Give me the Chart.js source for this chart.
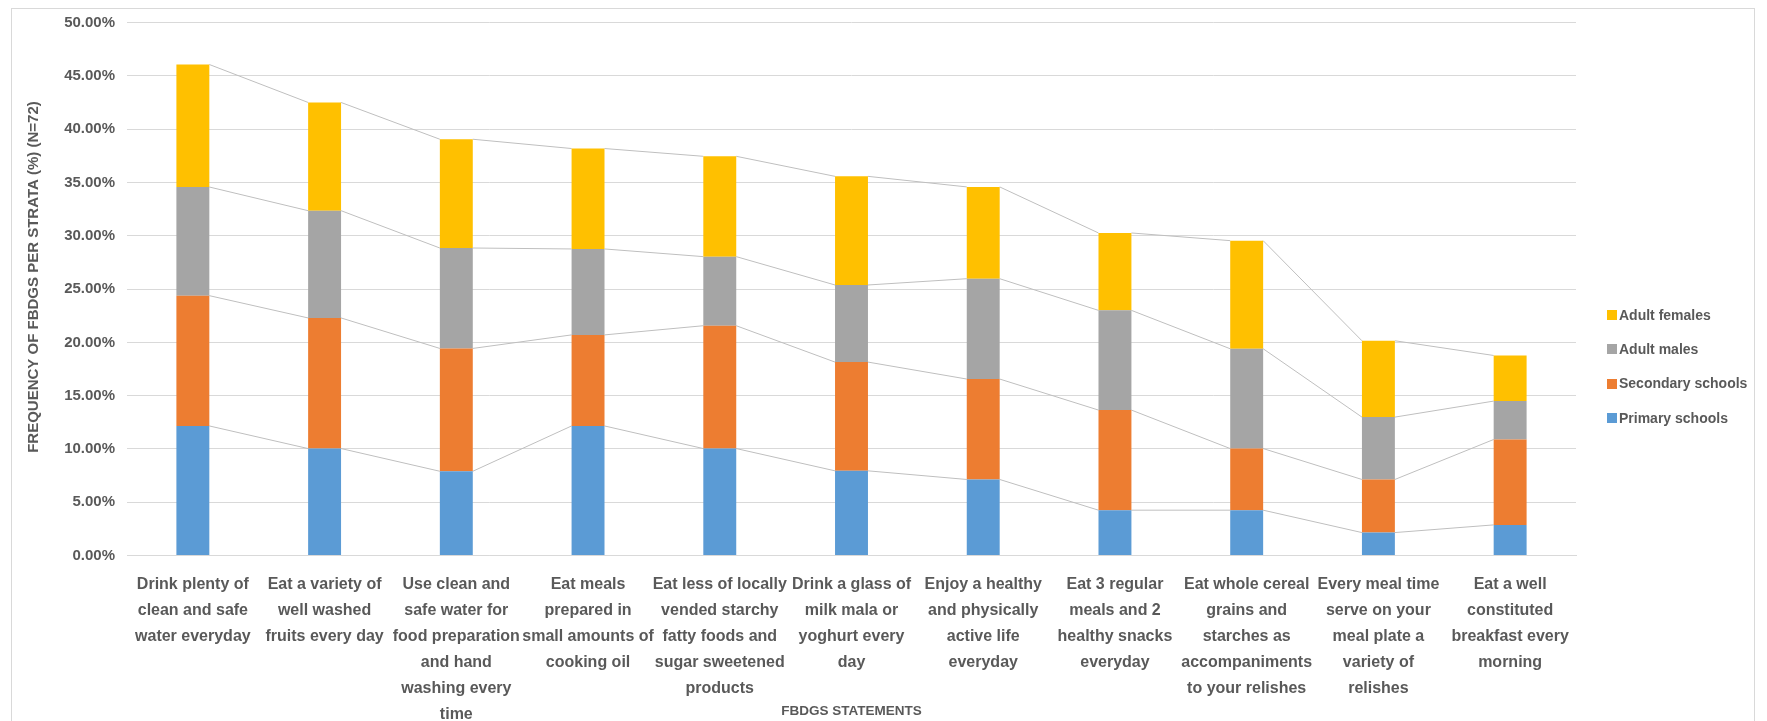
<!DOCTYPE html>
<html>
<head>
<meta charset="utf-8">
<script src="https://cdn.jsdelivr.net/npm/chart.js@4.4.1/dist/chart.umd.min.js"></script>
<style>
  html, body { margin: 0; padding: 0; background: #ffffff; overflow: hidden; }
  #frame { position: absolute; left: 11px; top: 8px; width: 1744px; height: 740px; border: 1px solid #d9d9d9; box-sizing: border-box; }
  #wrap { position: absolute; left: 0; top: 0; width: 1767px; height: 721px; }
</style>
</head>
<body>
<div id="frame"></div>
<div id="wrap"><canvas id="chart" width="1767" height="721"></canvas></div>
<script>
// FBDGS statements (multi-line category labels)
const statements = [
  ["Drink plenty of", "clean and safe", "water everyday"],
  ["Eat a variety of", "well washed", "fruits every day"],
  ["Use clean and", "safe water for", "food preparation", "and hand", "washing every", "time"],
  ["Eat meals", "prepared in", "small amounts of", "cooking oil"],
  ["Eat less of locally", "vended starchy", "fatty foods and", "sugar sweetened", "products"],
  ["Drink a glass of", "milk mala or", "yoghurt every", "day"],
  ["Enjoy a healthy", "and physically", "active life", "everyday"],
  ["Eat 3 regular", "meals and 2", "healthy snacks", "everyday"],
  ["Eat whole cereal", "grains and", "starches as", "accompaniments", "to your relishes"],
  ["Every meal time", "serve on your", "meal plate a", "variety of", "relishes"],
  ["Eat a well", "constituted", "breakfast every", "morning"]
];

// Frequency per stratum, in percent
const primarySchools   = [12.16, 10.04, 7.91, 12.16, 10.04, 7.95, 7.14, 4.26, 4.26, 2.16, 2.88];
const secondarySchools = [12.22, 12.25, 11.52, 8.54, 11.52, 10.20, 9.42, 9.39, 5.78, 4.98, 8.01];
const adultMales       = [10.19, 10.06, 9.42, 8.06, 6.48, 7.23, 9.41, 9.35, 9.36, 5.85, 3.60];
const adultFemales     = [11.49, 10.15, 10.20, 9.42, 9.41, 10.19, 8.61, 7.26, 10.14, 7.16, 4.28];

const seriesNames = ["Primary schools", "Secondary schools", "Adult males", "Adult females"];
const seriesColors = ["#5B9BD5", "#ED7D31", "#A5A5A5", "#FFC000"];

const yAxisTitle = "FREQUENCY OF FBDGS PER STRATA (%) (N=72)";
const xAxisTitle = "FBDGS STATEMENTS";

const FONT = "'Liberation Sans', Arial, sans-serif";
const TEXT = "#595959";

// Thin connector lines between the tops of matching segments in neighbouring bars
const seriesLines = {
  id: 'seriesLines',
  beforeDatasetsDraw(chart) {
    const ctx = chart.ctx;
    ctx.save();
    ctx.strokeStyle = '#bfbfbf';
    ctx.lineWidth = 1;
    chart.data.datasets.forEach((ds, i) => {
      const els = chart.getDatasetMeta(i).data;
      for (let j = 0; j < els.length - 1; j++) {
        const a = els[j], b = els[j + 1];
        ctx.beginPath();
        ctx.moveTo(a.x + a.width / 2, a.y);
        ctx.lineTo(b.x - b.width / 2, b.y);
        ctx.stroke();
      }
    });
    ctx.restore();
  }
};

// Legend on the right (top entry = last series) and the vertical value-axis title
const sideText = {
  id: 'sideText',
  afterDraw(chart) {
    const ctx = chart.ctx;
    const area = chart.chartArea;
    const items = chart.data.datasets.map(d => ({ label: d.label, color: d.backgroundColor })).reverse();
    const x0 = area.right + 31;
    const step = 34.2;
    const yc = chart.height / 2 + 6 - step * (items.length - 1) / 2;
    ctx.save();
    ctx.font = "bold 14px " + FONT;
    ctx.textBaseline = 'middle';
    ctx.textAlign = 'left';
    items.forEach((it, k) => {
      const y = yc + k * step;
      ctx.fillStyle = it.color;
      ctx.fillRect(x0, Math.round(y - 5), 10, 10);
      ctx.fillStyle = TEXT;
      ctx.fillText(it.label, x0 + 12, y + 1);
    });

    ctx.translate(34, (area.top + area.bottom) / 2 - 12);
    ctx.rotate(-Math.PI / 2);
    ctx.font = "bold 15px " + FONT;
    ctx.textAlign = 'center';
    ctx.fillStyle = TEXT;
    ctx.fillText(yAxisTitle, 0, 0);
    ctx.restore();
  }
};

const valueSets = [primarySchools, secondarySchools, adultMales, adultFemales];

new Chart(document.getElementById('chart'), {
  type: 'bar',
  data: {
    labels: statements,
    datasets: valueSets.map((vals, i) => ({
      label: seriesNames[i],
      data: vals,
      backgroundColor: seriesColors[i],
      borderWidth: 0,
      categoryPercentage: 1.0,
      barPercentage: 0.25
    }))
  },
  options: {
    responsive: false,
    animation: false,
    devicePixelRatio: 1,
    layout: { padding: { left: 0, top: 22.5, right: 191, bottom: 0 } },
    plugins: {
      legend: { display: false },
      tooltip: { enabled: false }
    },
    scales: {
      x: {
        stacked: true,
        grid: { display: false, drawTicks: false },
        border: { display: true, color: '#d9d9d9', width: 1 },
        ticks: {
          color: TEXT,
          font: { family: FONT, size: 16, weight: 'bold', lineHeight: 1.62 },
          padding: 16,
          maxRotation: 0,
          autoSkip: false
        },
        title: {
          display: true,
          text: xAxisTitle,
          color: TEXT,
          font: { family: FONT, size: 13.5, weight: 'bold' },
          padding: { top: 0, bottom: 1.5 }
        },
        afterFit(scale) { scale.height = 165.4; }
      },
      y: {
        stacked: true,
        min: 0,
        max: 50,
        grid: { color: '#d9d9d9', lineWidth: 1, drawTicks: false },
        border: { display: false },
        ticks: {
          stepSize: 5,
          color: TEXT,
          font: { family: FONT, size: 15, weight: 'bold' },
          padding: 12,
          callback: v => v.toFixed(2) + '%'
        },
        title: { display: false },
        afterFit(scale) { scale.width = 127; }
      }
    }
  },
  plugins: [seriesLines, sideText]
});
</script>
</body>
</html>
